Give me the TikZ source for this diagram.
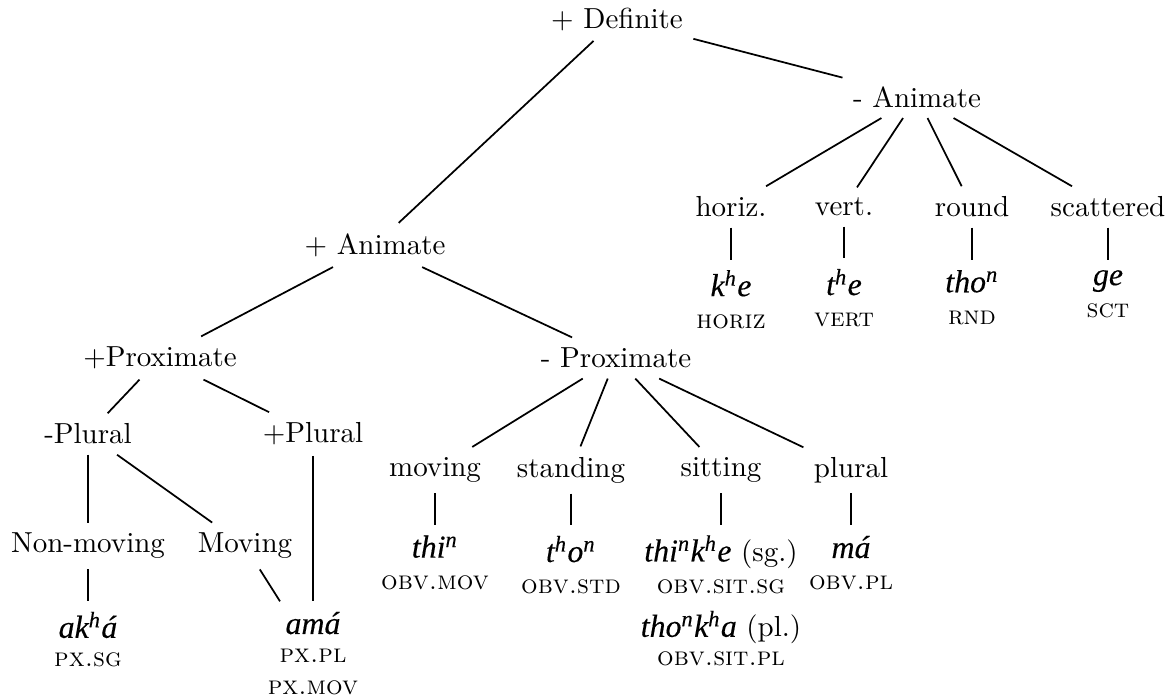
\documentclass[tikz,border=0pt]{standalone}
\usepackage{fontspec}
\newfontfamily\wordfont{Liberation Serif}[Scale=1.1, FakeBold=0.3]
\usetikzlibrary{positioning}
\newcommand{\obj}[1]{{\wordfont\itshape #1}}
\newcommand{\glossa}[1]{{\small\textsc{#1}}}

\begin{document}
\begin{tikzpicture}[x=0.345pt, y=-0.345pt, semithick, node distance=11pt, leaf/.style={align=center}]
    \useasboundingbox (0,0) rectangle (1170,696);

    %Nodes
    \node (def) at (617,19) {+ Definite};
    \node (anm) at (917,97) {- Animate};
    \node (anp) at (375,245) {+ Animate};
    \node (horiz) at (731,207) {horiz.};
    \node (vert) at (844,207) {vert.};
    \node (round) at (972,207) {round};
    \node (scat) at (1108,207) {scattered};
    \node (prp) at (160,358) {+Proximate};
    \node (prm) at (616,358) {- Proximate};
    \node (sgp) at (88,434) {-Plural};
    \node (plp) at (313,434) {+Plural};
    \node (moving) at (435,470) {moving};
    \node (standing) at (571,470) {standing};
    \node (sitting) at (721,470) {sitting};
    \node (plural) at (851,470) {plural};
    \node (nonmov) at (88,546) {Non-moving};
    \node (mov) at (245,546) {Moving};

    \node[leaf](khe)[below=of horiz]{\obj{k\textsuperscript{h}e}\\[-1pt]\glossa{horiz}};
    \node[leaf](the)[below=of vert]{\obj{t\textsuperscript{h}e}\\[-1pt]\glossa{vert}};
    \node[leaf](thon)[below=of round]{\obj{tho\textsuperscript{n}}\\[-1pt]\glossa{rnd}};
    \node[leaf](ge)[below=of scat]{\obj{ge}\\[-1pt]\glossa{sct}};
    \node[leaf](thin)[below=of moving]{\obj{thi\textsuperscript{n}}\\[-1pt]\glossa{obv.mov}};
    \node[leaf](tthon)[below=of standing]{\obj{t\textsuperscript{h}o\textsuperscript{n}}\\[-1pt]\glossa{obv.std}};
    \node[leaf](thinkhe)[below=of sitting]{\obj{thi\textsuperscript{n}k\textsuperscript{h}e} (sg.)\\[-1pt]\glossa{obv.sit.sg}\\[3pt]\obj{tho\textsuperscript{n}k\textsuperscript{h}a} (pl.)\\[-2pt]\glossa{obv.sit.pl}};
    \node[leaf](ma)[below=of plural]{\obj{má}\\[-1pt]\glossa{obv.pl}};
    \node[leaf](akha)[below=of nonmov]{\obj{ak\textsuperscript{h}á}\\[-2pt]\glossa{px.sg}};
    \node[leaf, anchor=north](ama) at (plp |- akha.north) {\obj{amá}\\[-2pt]\glossa{px.pl}\\[-1pt]\glossa{px.mov}};

    %Lines
    \draw (def) -- (anp);
    \draw (def) -- (anm);
    \draw (anm) -- (horiz);
    \draw (anm) -- (vert);
    \draw (anm) -- (round);
    \draw (anm) -- (scat);
    \draw (horiz) -- (khe);
    \draw (vert) -- (the);
    \draw (round) -- (thon);
    \draw (scat) -- (ge);
    \draw (anp) -- (prp);
    \draw (anp) -- (prm);
    \draw (prp) -- (sgp);
    \draw (prp) -- (plp);
    \draw (sgp) -- (nonmov);
    \draw (sgp) -- (mov);
    \draw (plp) -- (ama);
    \draw (nonmov) -- (akha);
    \draw (mov) -- (ama);
    \draw (prm) -- (moving);
    \draw (prm) -- (standing);
    \draw (prm) -- (sitting);
    \draw (prm) -- (plural);
    \draw (moving) -- (thin);
    \draw (standing) -- (tthon);
    \draw (sitting) -- (thinkhe);
    \draw (plural) -- (ma);

\end{tikzpicture}
\end{document}
